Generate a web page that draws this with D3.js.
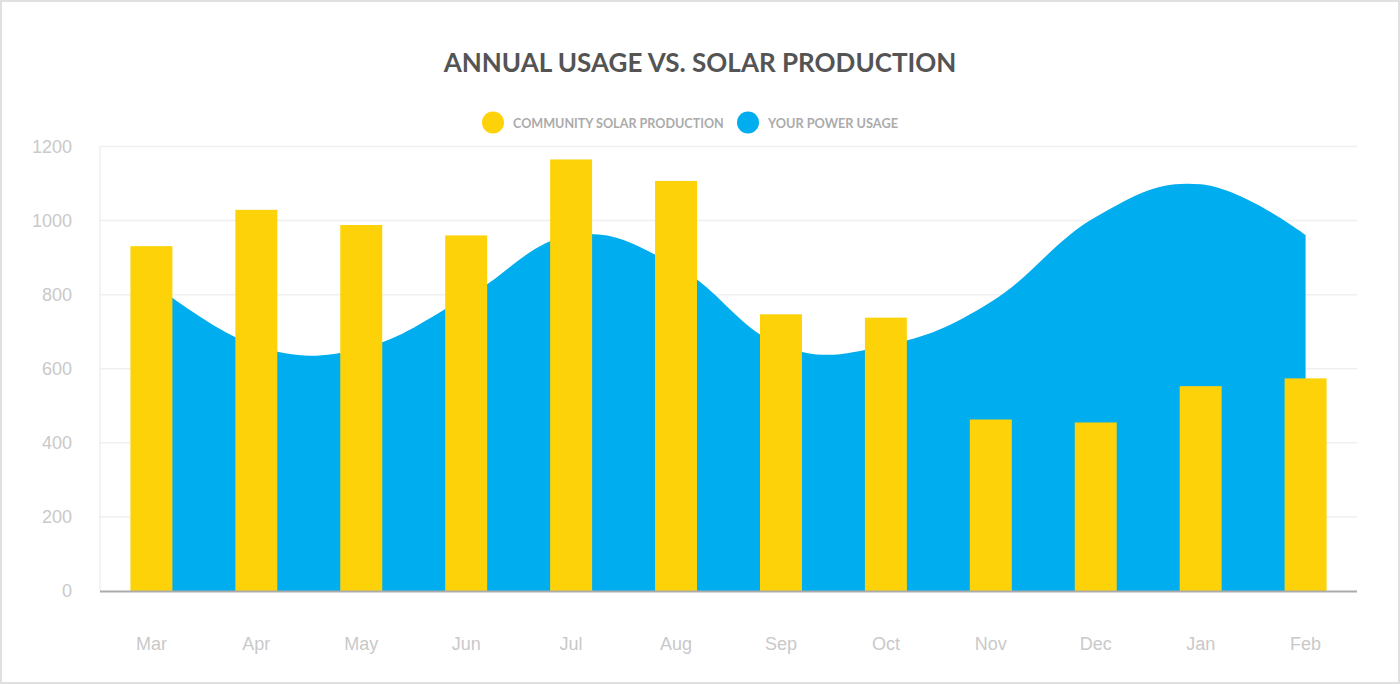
<!DOCTYPE html>
<html>
<head>
<meta charset="utf-8">
<script src="https://cdn.jsdelivr.net/npm/d3@7"></script>
<style>
  html, body { margin: 0; padding: 0; background: #fff; }
  svg { display: block; }
</style>
</head>
<body>
<svg id="chart" width="1400" height="684"></svg>
<script>
const months = ["Mar","Apr","May","Jun","Jul","Aug","Sep","Oct","Nov","Dec","Jan","Feb"];
const solarProduction = [931, 1029, 988, 960, 1165, 1107, 747, 738, 463, 455, 553, 574];
const powerUsage = [835, 662, 655, 793, 960, 878, 663, 663, 780, 1010, 1098, 961];
const yTicks = [0, 200, 400, 600, 800, 1000, 1200];
const titleText = "ANNUAL USAGE VS. SOLAR PRODUCTION";
const legendLabels = ["COMMUNITY SOLAR PRODUCTION", "YOUR POWER USAGE"];

const W = 1400, H = 684;
const YELLOW = "#FED208", BLUE = "#00ADEE";
const svg = d3.select("#chart");

// frame
svg.append("rect").attr("x", 1).attr("y", 1).attr("width", W - 2).attr("height", H - 2)
  .attr("fill", "#fff").attr("stroke", "#e0e0e0").attr("stroke-width", 2);

const plotL = 100, plotR = 1357, plotT = 146.5, plotB = 591;

const x = d3.scaleBand().domain(months).range([plotL, plotR])
  .paddingInner(0.6).paddingOuter(0.29);
const y = d3.scaleLinear().domain([0, 1200]).range([plotB, plotT]);

// gridlines
const grid = svg.append("g");
grid.selectAll("line").data(yTicks.filter(d => d > 0)).join("line")
  .attr("x1", plotL).attr("x2", plotR)
  .attr("y1", d => y(d)).attr("y2", d => y(d))
  .attr("stroke", "#efefef").attr("stroke-width", 1.5);
grid.append("line").attr("x1", plotL).attr("x2", plotL)
  .attr("y1", y(1200)).attr("y2", plotB)
  .attr("stroke", "#efefef").attr("stroke-width", 1.5);

// y axis labels
const yAxis = d3.axisLeft(y).tickValues(yTicks).tickFormat(d3.format("d")).tickSize(0).tickPadding(0);
const gy = svg.append("g").attr("transform", `translate(72,0)`).call(yAxis);
gy.select(".domain").remove();
gy.selectAll("text").attr("font-family", "'Liberation Sans', Arial, Helvetica, sans-serif")
  .attr("font-size", 18).attr("fill", "#c9c9c9");

// area (usage)
const cx = m => x(m) + x.bandwidth() / 2;
const area = d3.area()
  .x((d, i) => cx(months[i]))
  .y0(y(0))
  .y1(d => y(d))
  .curve(d3.curveCardinal.tension(-0.2));
svg.append("path").datum(powerUsage).attr("d", area).attr("fill", BLUE);

// bars (production)
svg.append("g").selectAll("rect").data(solarProduction).join("rect")
  .attr("x", (d, i) => x(months[i]))
  .attr("width", x.bandwidth())
  .attr("y", d => y(d))
  .attr("height", d => y(0) - y(d))
  .attr("fill", YELLOW);

// x axis
svg.append("line").attr("x1", plotL).attr("x2", plotR)
  .attr("y1", plotB + 0.5).attr("y2", plotB + 0.5)
  .attr("stroke", "#ababab").attr("stroke-width", 2);
const xAxis = d3.axisBottom(x).tickSize(0).tickPadding(0);
const gx = svg.append("g").attr("transform", `translate(0,${plotB + 46})`).call(xAxis);
gx.select(".domain").remove();
gx.selectAll("text").attr("font-family", "'Liberation Sans', Arial, Helvetica, sans-serif")
  .attr("font-size", 18).attr("fill", "#c9c9c9");

// title
const title = svg.append("text").attr("x", 700).attr("y", 72)
  .attr("text-anchor", "middle")
  .attr("font-family", "Lato, 'Open Sans', sans-serif").attr("font-weight", 700)
  .attr("font-size", 25).attr("fill", "#545454").text(titleText);
const tw = title.node().getComputedTextLength();
title.attr("font-size", 25 * 513 / tw);

// legend
const legendColors = [YELLOW, BLUE];
const legendX = [493, 748];
const legendW = [211, 130];
legendLabels.forEach((lab, i) => {
  svg.append("circle").attr("cx", legendX[i]).attr("cy", 122.5).attr("r", 11)
    .attr("fill", legendColors[i]);
  const t = svg.append("text").attr("x", legendX[i] + 20).attr("y", 128)
    .attr("font-family", "Lato, 'Open Sans', sans-serif").attr("font-weight", 700)
    .attr("font-size", 13).attr("fill", "#ababab").text(lab);
  const w = t.node().getComputedTextLength();
  t.attr("font-size", 13 * legendW[i] / w);
});
</script>
</body>
</html>
